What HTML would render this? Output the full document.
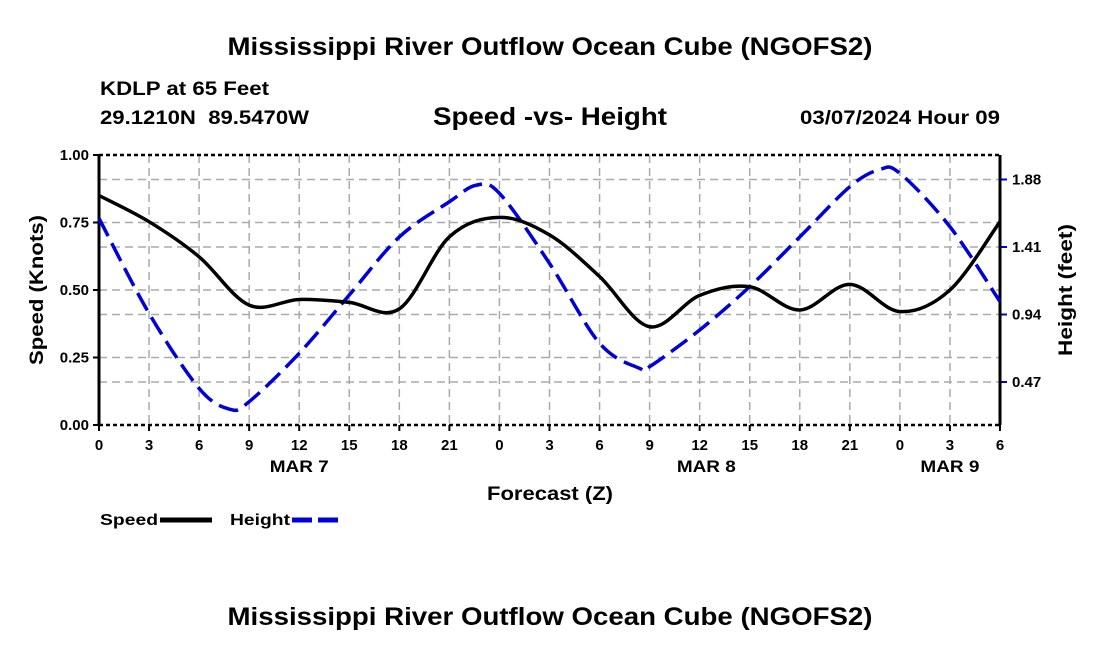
<!DOCTYPE html>
<html><head><meta charset="utf-8">
<style>
body{margin:0;background:#fff;width:1100px;height:650px;overflow:hidden;font-family:"Liberation Sans",Arial,sans-serif}
svg text{font-family:"Liberation Sans",Arial,sans-serif;font-weight:bold}
</style></head>
<body>
<svg id="chart" width="1100" height="650" xmlns="http://www.w3.org/2000/svg">
<text x="550" y="55" text-anchor="middle" font-size="25" textLength="645" lengthAdjust="spacingAndGlyphs">Mississippi River Outflow Ocean Cube (NGOFS2)</text>
<text x="100" y="95" font-size="19" textLength="169" lengthAdjust="spacingAndGlyphs">KDLP at 65 Feet</text>
<text x="100" y="124" font-size="19" textLength="209" lengthAdjust="spacingAndGlyphs" xml:space="preserve">29.1210N  89.5470W</text>
<text x="550" y="125" text-anchor="middle" font-size="25" textLength="234" lengthAdjust="spacingAndGlyphs">Speed -vs- Height</text>
<text x="800" y="124" font-size="19" textLength="200" lengthAdjust="spacingAndGlyphs">03/07/2024 Hour 09</text>
<g id="grid"></g>
<g id="axes"></g>
<g id="series"></g>
<text transform="translate(43,290) rotate(-90)" text-anchor="middle" font-size="19" textLength="150" lengthAdjust="spacingAndGlyphs">Speed (Knots)</text>
<text transform="translate(1072,290) rotate(-90)" text-anchor="middle" font-size="19" textLength="132" lengthAdjust="spacingAndGlyphs">Height (feet)</text>
<text x="550" y="500" text-anchor="middle" font-size="19" textLength="126" lengthAdjust="spacingAndGlyphs">Forecast (Z)</text>
<g>
<text x="100" y="525" font-size="16" textLength="58" lengthAdjust="spacingAndGlyphs">Speed</text>
<line x1="160" y1="520" x2="212" y2="520" stroke="#000" stroke-width="5"/>
</g>
<g>
<text x="230" y="525" font-size="16" textLength="60" lengthAdjust="spacingAndGlyphs">Height</text>
<line x1="292" y1="520" x2="342" y2="520" stroke="#0000dd" stroke-width="5" stroke-dasharray="20,6"/>
</g>
<text x="550" y="625" text-anchor="middle" font-size="25" textLength="645" lengthAdjust="spacingAndGlyphs">Mississippi River Outflow Ocean Cube (NGOFS2)</text>
</svg>
<script>
const hours = [0,3,6,9,12,15,18,21,24,27,30,33,36,39,42,45,48,51,54];
const speedValues = [0.85,0.753,0.623,0.444,0.465,0.454,0.43,0.697,0.769,0.704,0.55,0.364,0.48,0.512,0.426,0.521,0.42,0.50,0.753];
const heightHours = [0,3,6,7.85,9,12,15,18,21,22.6,24,27,30,32.4,33,36,39,42,45,46.8,48,51,54];
const heightValues = [1.61,0.948,0.426,0.28,0.333,0.67,1.076,1.48,1.725,1.84,1.784,1.296,0.74,0.565,0.577,0.832,1.134,1.48,1.83,1.95,1.923,1.551,1.03];
const xTickLabels = ["0","3","6","9","12","15","18","21","0","3","6","9","12","15","18","21","0","3","6"];
const speedTicks = [0,0.25,0.5,0.75,1.0];
const heightTicks = [0.47,0.94,1.41,1.88];
const dayLabels = ["MAR 7","MAR 8","MAR 9"];
const dayLabelHours = [12,36.4,51];

const L=99,R=1000,T=155,B=425;
const hMin=0.1706,hMax=2.0506;
const xS=h=>L+(R-L)*h/54;
const yS=v=>B-(B-T)*v;
const yH=v=>B-(B-T)*(v-hMin)/(hMax-hMin);
const NS="http://www.w3.org/2000/svg";
function mk(tag,attrs,parent,txt){const e=document.createElementNS(NS,tag);for(const k in attrs)e.setAttribute(k,attrs[k]);if(txt!==undefined)e.textContent=txt;parent.appendChild(e);return e;}
const grid=document.getElementById('grid'),axes=document.getElementById('axes'),series=document.getElementById('series');

hours.forEach((h,i)=>{
  const x=xS(h);
  if(i>0&&i<hours.length-1){const g=mk('line',{x1:x,y1:T,x2:x,y2:B,stroke:'#aaa','stroke-width':1.5,'stroke-dasharray':'8,5'},grid);
  
  }
  const t=mk('line',{x1:x,y1:B,x2:x,y2:B+6,stroke:'#000','stroke-width':2},axes);
  
  
  const lb=mk('text',{x:x,y:B+25,'text-anchor':'middle','font-size':15},axes,xTickLabels[i]);
  
  
});
dayLabels.forEach((d,i)=>{
  const t=mk('text',{x:xS(dayLabelHours[i]),y:B+47,'text-anchor':'middle','font-size':17,textLength:59,lengthAdjust:'spacingAndGlyphs'},axes,d);
  
  
});
speedTicks.forEach(v=>{
  const y=yS(v);
  if(v>0&&v<1){const g=mk('line',{x1:L,y1:y,x2:R,y2:y,stroke:'#aaa','stroke-width':1.5,'stroke-dasharray':'8,5'},grid);
  
  }
  const t=mk('line',{x1:L-6,y1:y,x2:L,y2:y,stroke:'#000','stroke-width':2},axes);
  
  
  const lb=mk('text',{x:L-10,y:y+5,'text-anchor':'end','font-size':15},axes,v.toFixed(2));
  
  
});
heightTicks.forEach(v=>{
  const y=yH(v);
  const g=mk('line',{x1:L,y1:y,x2:R,y2:y,stroke:'#aaa','stroke-width':1.5,'stroke-dasharray':'8,5'},grid);
  
  
  const t=mk('line',{x1:R,y1:y,x2:R+7,y2:y,stroke:'#0000dd','stroke-width':2},axes);
  
  
  const lb=mk('text',{x:R+12,y:y+5,'font-size':15},axes,v.toFixed(2));
  
  
});
const fr=[['line',{x1:L,y1:T,x2:L,y2:B,stroke:'#000','stroke-width':3}],['line',{x1:R,y1:T,x2:R,y2:B,stroke:'#000','stroke-width':3}],
['line',{x1:L,y1:T,x2:R,y2:T,stroke:'#000','stroke-width':2.5,'stroke-dasharray':'4,3'}],['line',{x1:L,y1:B,x2:R,y2:B,stroke:'#000','stroke-width':2.5,'stroke-dasharray':'4,3'}]];
fr.forEach(f=>{const e=mk(f[0],f[1],axes);

});

function smooth(pts){
  let d='M'+pts[0][0]+','+pts[0][1];
  for(let i=0;i<pts.length-1;i++){
    const p0=pts[Math.max(0,i-1)],p1=pts[i],p2=pts[i+1],p3=pts[Math.min(pts.length-1,i+2)];
    const c1=[p1[0]+(p2[0]-p0[0])/6,p1[1]+(p2[1]-p0[1])/6];
    const c2=[p2[0]-(p3[0]-p1[0])/6,p2[1]-(p3[1]-p1[1])/6];
    d+=' C'+c1[0]+','+c1[1]+' '+c2[0]+','+c2[1]+' '+p2[0]+','+p2[1];
  }
  return d;
}
const hp=mk('path',{d:smooth(heightHours.map((h,i)=>[xS(h),yH(heightValues[i])])),fill:'none',stroke:'#0000dd','stroke-width':3.5,'stroke-dasharray':'20,8'},series);


const sp=mk('path',{d:smooth(hours.map((h,i)=>[xS(h),yS(speedValues[i])])),fill:'none',stroke:'#000','stroke-width':3.5},series);


</script>
</body></html>
